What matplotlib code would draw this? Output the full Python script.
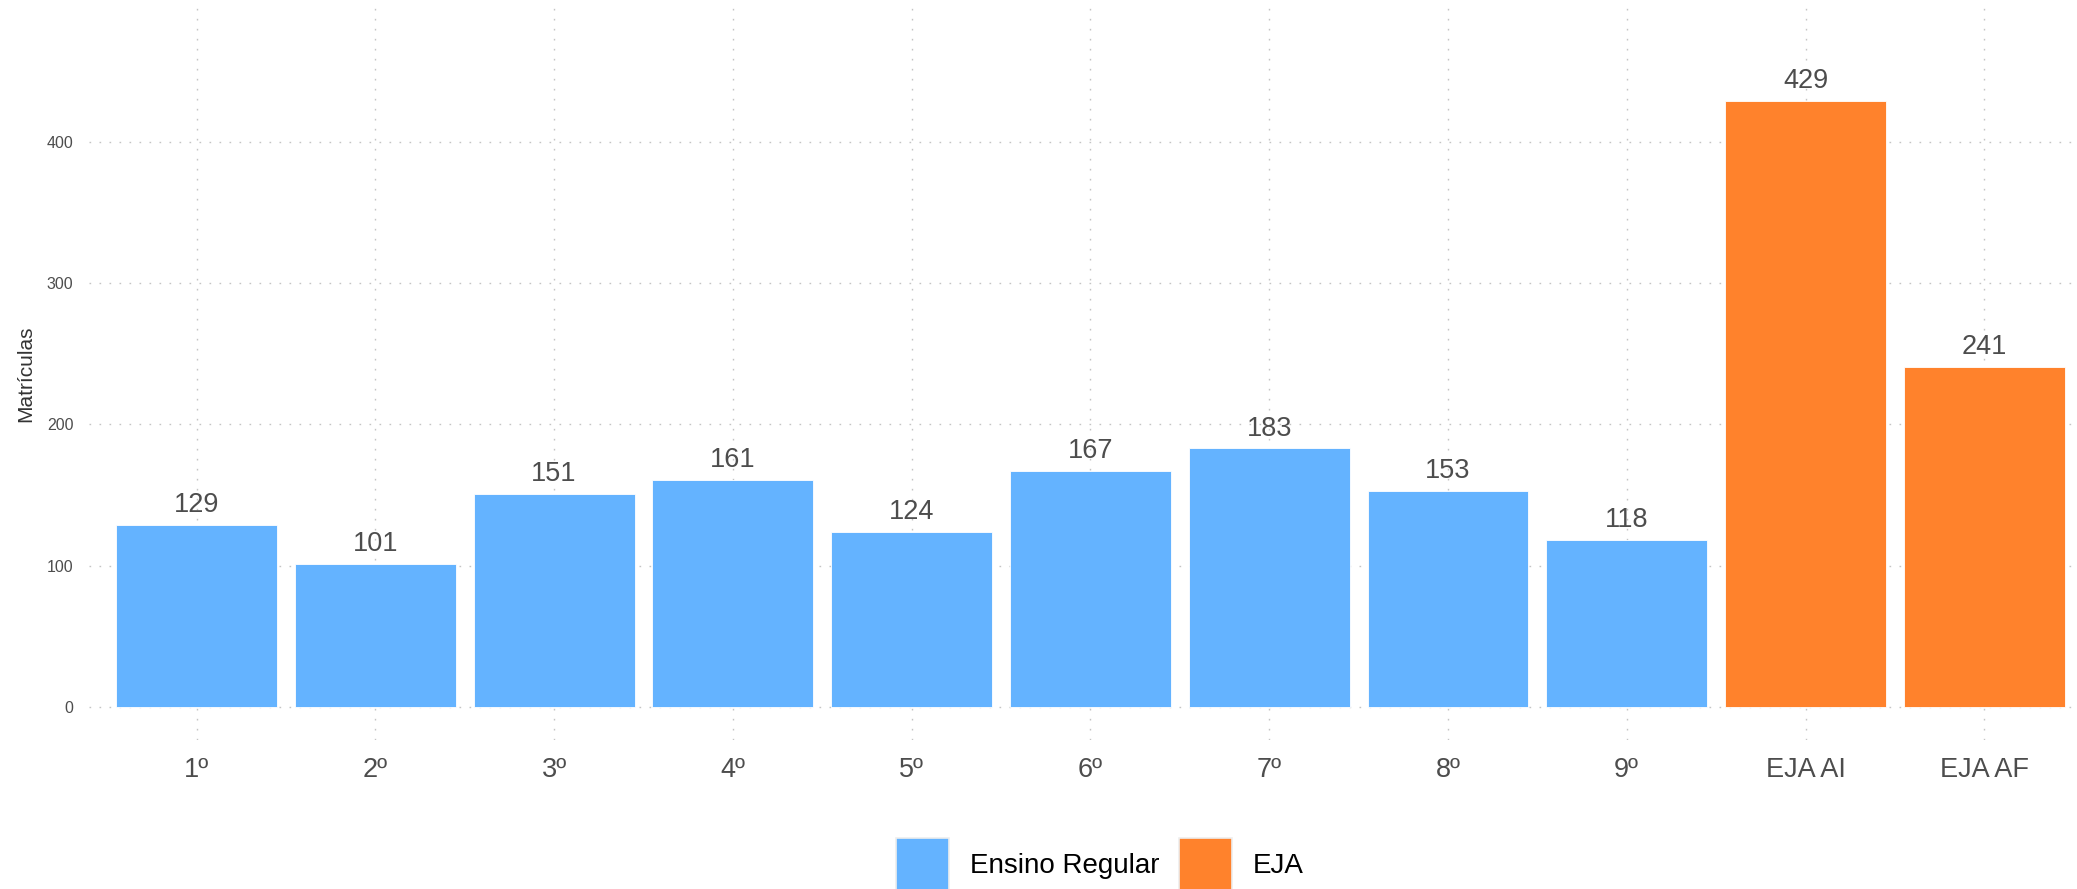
import matplotlib
matplotlib.use("Agg")
import matplotlib.pyplot as plt
from matplotlib.patches import Patch
import numpy as np

plt.rcParams["font.family"] = ["Liberation Sans", "DejaVu Sans"]

# dados
series = ["1º", "2º", "3º", "4º", "5º", "6º", "7º", "8º", "9º", "EJA AI", "EJA AF"]
matriculas = [129, 101, 151, 161, 124, 167, 183, 153, 118, 429, 241]
grupo = ["Ensino Regular"] * 9 + ["EJA"] * 2
cores = {"Ensino Regular": "#64B3FF", "EJA": "#FF822C"}

fig = plt.figure(figsize=(20.77, 8.89), dpi=100)
ax = fig.add_axes([0.043, 0.1676, 0.964, 0.824])

x = np.arange(len(series))
ax.bar(x, matriculas, width=0.9, color=[cores[g] for g in grupo],
       edgecolor="white", linewidth=0.6, zorder=2)

for xi, v in zip(x, matriculas):
    ax.annotate(str(v), (xi, v), xytext=(0, 5), textcoords="offset points",
                ha="center", va="bottom", fontsize=19.5, color="#4D4D4D")

ax.set_xlim(-0.6, 10.6)
ax.set_ylim(-23.6, 495.5)
ax.set_xticks(x)
ax.set_xticklabels(series, fontsize=19.5, color="#4D4D4D")
ax.set_yticks([0, 100, 200, 300, 400])
ax.set_yticklabels(["0", "100", "200", "300", "400"], fontsize=11.5, color="#4D4D4D")
ax.tick_params(axis="x", length=0, pad=12)
ax.tick_params(axis="y", length=0, pad=11.5)
ax.set_ylabel("Matrículas", fontsize=15, color="#333333", labelpad=8)

ax.grid(True, color="#C4C4C4", linewidth=1.0, linestyle=(0, (1.2, 6)), zorder=0)
ax.set_axisbelow(True)
for s in ax.spines.values():
    s.set_visible(False)

handles = [Patch(facecolor=cores[k], edgecolor="#EEEEEE", linewidth=1.2, label=k)
           for k in ["Ensino Regular", "EJA"]]
fig.legend(handles=handles, loc="upper center", bbox_to_anchor=(0.5296, 0.07),
           ncol=2, frameon=False, fontsize=20, handlelength=1.9, handleheight=2.56,
           handletextpad=0.75, columnspacing=0.72, borderaxespad=0)

plt.savefig("out.png", dpi=100)
plt.close()
